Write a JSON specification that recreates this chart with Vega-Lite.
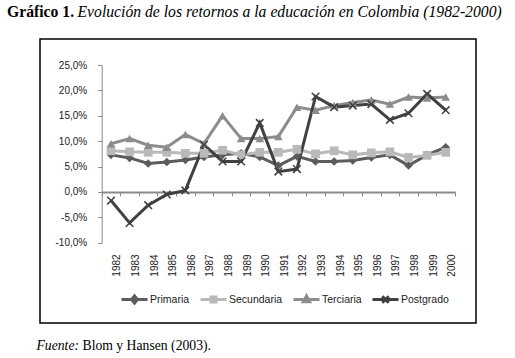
{
  "$schema": "https://vega.github.io/schema/vega-lite/v6.json",
  "width": 436,
  "height": 284,
  "autosize": {"type": "none"},
  "padding": {"left": 40, "top": 39, "right": 39, "bottom": 35},
  "background": "white",
  "config": {
    "view": {"stroke": "#000000", "strokeWidth": 1.5},
    "font": "Liberation Sans"
  },
  "title": {
    "text": "Evolución de los retornos a la educación en Colombia (1982-2000)",
    "subtitle": "Gráfico 1.",
    "anchor": "start",
    "frame": "group",
    "orient": "top",
    "font": "Liberation Serif",
    "fontSize": 15.7,
    "fontStyle": "italic",
    "fontWeight": "normal",
    "color": "#000000",
    "subtitleFont": "Liberation Serif",
    "subtitleFontSize": 15.7,
    "subtitleFontWeight": "bold",
    "subtitleFontStyle": "normal",
    "subtitleColor": "#000000",
    "subtitlePadding": -15.7,
    "dx": -33,
    "offset": 18,
    "encoding": {"dx": {"value": 37.5}}
  },
  "data": {
    "values": [
      {"year": "1982", "series": "Primaria", "value": 7.3},
      {"year": "1983", "series": "Primaria", "value": 6.7},
      {"year": "1984", "series": "Primaria", "value": 5.6},
      {"year": "1985", "series": "Primaria", "value": 5.9},
      {"year": "1986", "series": "Primaria", "value": 6.3},
      {"year": "1987", "series": "Primaria", "value": 6.9},
      {"year": "1988", "series": "Primaria", "value": 7.3},
      {"year": "1989", "series": "Primaria", "value": 7.6},
      {"year": "1990", "series": "Primaria", "value": 6.9},
      {"year": "1991", "series": "Primaria", "value": 5.2},
      {"year": "1992", "series": "Primaria", "value": 7.0},
      {"year": "1993", "series": "Primaria", "value": 6.0},
      {"year": "1994", "series": "Primaria", "value": 6.0},
      {"year": "1995", "series": "Primaria", "value": 6.2},
      {"year": "1996", "series": "Primaria", "value": 6.8},
      {"year": "1997", "series": "Primaria", "value": 7.3},
      {"year": "1998", "series": "Primaria", "value": 5.2},
      {"year": "1999", "series": "Primaria", "value": 7.3},
      {"year": "2000", "series": "Primaria", "value": 8.8},
      {"year": "1982", "series": "Secundaria", "value": 8.1},
      {"year": "1983", "series": "Secundaria", "value": 7.9},
      {"year": "1984", "series": "Secundaria", "value": 7.8},
      {"year": "1985", "series": "Secundaria", "value": 7.8},
      {"year": "1986", "series": "Secundaria", "value": 7.6},
      {"year": "1987", "series": "Secundaria", "value": 7.6},
      {"year": "1988", "series": "Secundaria", "value": 8.2},
      {"year": "1989", "series": "Secundaria", "value": 7.3},
      {"year": "1990", "series": "Secundaria", "value": 7.8},
      {"year": "1991", "series": "Secundaria", "value": 7.8},
      {"year": "1992", "series": "Secundaria", "value": 8.4},
      {"year": "1993", "series": "Secundaria", "value": 7.5},
      {"year": "1994", "series": "Secundaria", "value": 8.1},
      {"year": "1995", "series": "Secundaria", "value": 7.3},
      {"year": "1996", "series": "Secundaria", "value": 7.7},
      {"year": "1997", "series": "Secundaria", "value": 7.9},
      {"year": "1998", "series": "Secundaria", "value": 6.8},
      {"year": "1999", "series": "Secundaria", "value": 7.2},
      {"year": "2000", "series": "Secundaria", "value": 7.8},
      {"year": "1982", "series": "Terciaria", "value": 9.5},
      {"year": "1983", "series": "Terciaria", "value": 10.5},
      {"year": "1984", "series": "Terciaria", "value": 9.2},
      {"year": "1985", "series": "Terciaria", "value": 8.8},
      {"year": "1986", "series": "Terciaria", "value": 11.3},
      {"year": "1987", "series": "Terciaria", "value": 9.5},
      {"year": "1988", "series": "Terciaria", "value": 15.0},
      {"year": "1989", "series": "Terciaria", "value": 10.5},
      {"year": "1990", "series": "Terciaria", "value": 10.5},
      {"year": "1991", "series": "Terciaria", "value": 10.9},
      {"year": "1992", "series": "Terciaria", "value": 16.7},
      {"year": "1993", "series": "Terciaria", "value": 16.1},
      {"year": "1994", "series": "Terciaria", "value": 17.0},
      {"year": "1995", "series": "Terciaria", "value": 17.6},
      {"year": "1996", "series": "Terciaria", "value": 18.1},
      {"year": "1997", "series": "Terciaria", "value": 17.3},
      {"year": "1998", "series": "Terciaria", "value": 18.7},
      {"year": "1999", "series": "Terciaria", "value": 18.5},
      {"year": "2000", "series": "Terciaria", "value": 18.7},
      {"year": "1982", "series": "Postgrado", "value": -1.7},
      {"year": "1983", "series": "Postgrado", "value": -6.1},
      {"year": "1984", "series": "Postgrado", "value": -2.6},
      {"year": "1985", "series": "Postgrado", "value": -0.5},
      {"year": "1986", "series": "Postgrado", "value": 0.3},
      {"year": "1987", "series": "Postgrado", "value": 9.3},
      {"year": "1988", "series": "Postgrado", "value": 6.0},
      {"year": "1989", "series": "Postgrado", "value": 6.0},
      {"year": "1990", "series": "Postgrado", "value": 13.6},
      {"year": "1991", "series": "Postgrado", "value": 4.0},
      {"year": "1992", "series": "Postgrado", "value": 4.5},
      {"year": "1993", "series": "Postgrado", "value": 18.8},
      {"year": "1994", "series": "Postgrado", "value": 16.7},
      {"year": "1995", "series": "Postgrado", "value": 17.0},
      {"year": "1996", "series": "Postgrado", "value": 17.3},
      {"year": "1997", "series": "Postgrado", "value": 14.2},
      {"year": "1998", "series": "Postgrado", "value": 15.5},
      {"year": "1999", "series": "Postgrado", "value": 19.3},
      {"year": "2000", "series": "Postgrado", "value": 16.1}
    ]
  },
  "encoding": {
    "x": {
      "field": "year",
      "type": "ordinal",
      "scale": {"type": "band", "range": [61.7, 415], "paddingInner": 0, "paddingOuter": 0},
      "axis": {
        "offset": -131.1,
        "orient": "bottom",
        "domainColor": "#8a8a8a",
        "domainWidth": 2,
        "tickColor": "#8a8a8a",
        "tickSize": 4,
        "tickWidth": 1,
        "tickBand": "extent",
        "grid": false,
        "labelAngle": -90,
        "labelPadding": 58,
        "labelOffset": 6,
        "labelFont": "Liberation Sans",
        "labelFontSize": 10,
        "labelColor": "#222222",
        "title": "Blom y Hansen (2003).",
        "titleX": 42,
        "titleY": 157.1,
        "titleAlign": "left",
        "titleAnchor": "start",
        "titleBaseline": "alphabetic",
        "titleFont": "Liberation Serif",
        "titleFontSize": 13.7,
        "titleFontWeight": "normal",
        "titleColor": "#000000"
      }
    },
    "y": {
      "field": "value",
      "type": "quantitative",
      "scale": {"domain": [-10, 25], "range": [203.7, 26], "nice": false, "zero": false},
      "axis": {
        "offset": -61.7,
        "values": [-10, -5, 0, 5, 10, 15, 20, 25],
        "labelExpr": "(datum.value < 0 ? '-' : '') + replace(format(abs(datum.value), '.1f'), '.', ',') + '%'",
        "domainColor": "#8a8a8a",
        "domainWidth": 1,
        "tickColor": "#8a8a8a",
        "tickSize": 4,
        "grid": false,
        "labelPadding": 11,
        "labelFont": "Liberation Sans",
        "labelFontSize": 10,
        "labelColor": "#222222",
        "title": "Fuente:",
        "titleAngle": 0,
        "titleX": -65.7,
        "titleY": 310,
        "titleAlign": "left",
        "titleBaseline": "alphabetic",
        "titleFont": "Liberation Serif",
        "titleFontSize": 13.7,
        "titleFontStyle": "italic",
        "titleFontWeight": "normal",
        "titleColor": "#000000"
      }
    },
    "color": {
      "field": "series",
      "type": "nominal",
      "scale": {
        "domain": ["Primaria", "Secundaria", "Terciaria", "Postgrado"],
        "range": ["#5c5c5c", "#b9b9b9", "#8c8c8c", "#404040"]
      },
      "legend": {
        "title": null,
        "orient": "none",
        "direction": "horizontal",
        "legendX": 80,
        "legendY": 246,
        "padding": 0,
        "columnPadding": 4,
        "gridAlign": "none",
        "labelOffset": 1,
        "labelFont": "Liberation Sans",
        "labelFontSize": 10.5,
        "labelColor": "#222222",
        "symbolSize": 676,
        "symbolStrokeWidth": 3,
        "symbolOpacity": 1,
        "encoding": {
          "symbols": {
            "shape": {"value": {"signal": "datum.value === 'Primaria' ? 'M-1,0H1M0,-0.27L0.22,0L0,0.27L-0.22,0Z' : datum.value === 'Secundaria' ? 'M-1,0H1M-0.2,-0.2H0.2V0.2H-0.2Z' : datum.value === 'Terciaria' ? 'M-1,0H1M0,-0.27L0.24,0.18H-0.24Z' : 'M-1,0H1M-0.25,-0.25L0.25,0.25M-0.25,0.25L0.25,-0.25'"}},
            "fill": {"value": {"signal": "scale('color', datum.value)"}},
            "stroke": {"value": {"signal": "scale('color', datum.value)"}},
            "strokeWidth": {"value": 3},
            "opacity": {"value": 1},
            "fillOpacity": {"value": 1},
            "size": {"value": 676}
          }
        }
      }
    }
  },
  "layer": [
    {"mark": {"type": "line", "strokeWidth": 3}},
    {
      "mark": {"type": "point", "filled": true, "size": 75, "opacity": 1},
      "encoding": {
        "shape": {
          "field": "series",
          "type": "nominal",
          "scale": {
            "domain": ["Postgrado", "Primaria", "Secundaria", "Terciaria"],
            "range": ["M-1,-0.75L-0.75,-1L0,-0.25L0.75,-1L1,-0.75L0.25,0L1,0.75L0.75,1L0,0.25L-0.75,1L-1,0.75L-0.25,0Z", "diamond", "square", "triangle-up"]
          },
          "legend": null
        }
      }
    }
  ]
}
